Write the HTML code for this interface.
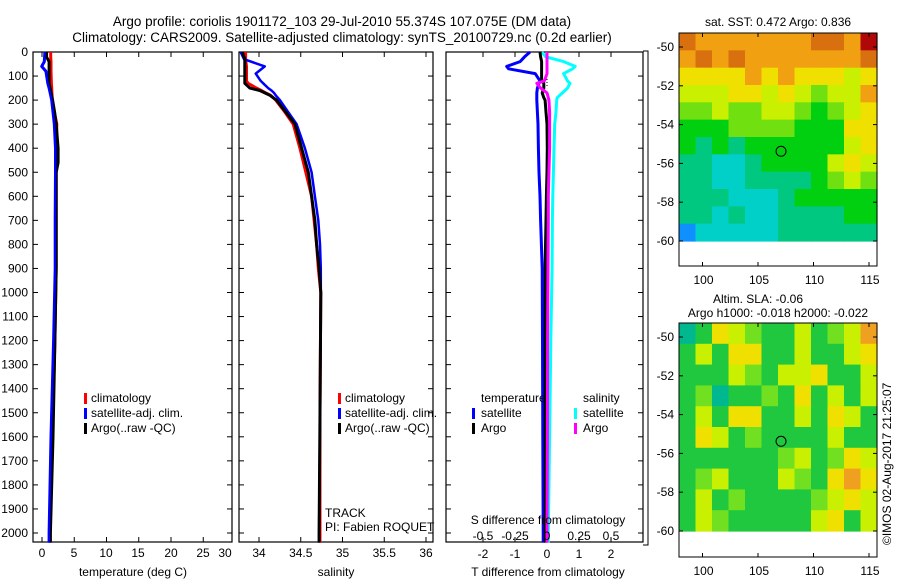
<!DOCTYPE html>
<html><head><meta charset="utf-8"><style>
body{margin:0;background:#fff}
svg{display:block;font-family:"Liberation Sans",sans-serif}
</style></head><body>
<svg id="chart" width="900" height="580" xmlns="http://www.w3.org/2000/svg">
<rect width="900" height="580" fill="#fff"/>
<text x="342" y="26" font-size="13.5" text-anchor="middle">Argo profile: coriolis 1901172_103 29-Jul-2010 55.374S 107.075E (DM data)</text>
<text x="342" y="42" font-size="13.5" text-anchor="middle">Climatology: CARS2009. Satellite-adjusted climatology: synTS_20100729.nc (0.2d earlier)</text>
<g id="g"></g>
</svg>
<script>
// depth levels (dbar)
const depthT = [0,20,40,60,80,130,150,200,250,300,400,460,500,700,900,1200,1600,2000,2040];
const tempClim = [1.35,1.35,1.4,1.4,1.4,1.45,1.5,1.6,1.9,2.3,2.2,2.2,2.2,2.2,2.2,2.0,1.6,1.25,1.25];
const tempArgo = [0.7,0.7,1.1,1.1,1.1,1.1,1.25,1.65,1.95,2.2,2.5,2.5,2.2,2.2,2.2,2.0,1.7,1.3,1.3];
const tempSat  = [0.45,0.4,0.35,-0.05,0.6,0.9,1.1,1.5,1.7,1.9,2.1,2.1,2.1,2.05,2.05,1.8,1.4,1.1,1.1];
const depthS = [0,30,60,90,120,130,150,160,170,180,200,250,300,400,500,600,700,800,900,1000,1500,2000,2040];
const salClim = [33.84,33.84,33.85,33.85,33.85,33.87,33.97,34.03,34.08,34.14,34.20,34.31,34.41,34.49,34.56,34.63,34.66,34.69,34.71,34.74,34.73,34.73,34.73];
const salArgo = [33.80,33.83,33.83,33.83,33.83,33.83,33.89,34.01,34.07,34.13,34.21,34.32,34.43,34.51,34.59,34.63,34.67,34.69,34.72,34.74,34.73,34.72,34.72];
const salSat  = [33.78,33.82,34.07,33.96,34.02,34.05,34.11,34.15,34.18,34.2,34.25,34.35,34.45,34.55,34.63,34.67,34.71,34.73,34.74,34.74,34.73,34.72,34.72];
const depthD = [0,20,40,60,70,90,120,130,150,170,190,200,250,300,400,500,600,700,900,1200,1600,2000,2040];
const dTsat  = [-0.53,-0.7,-0.84,-1.26,-1.2,-0.37,-0.22,-0.25,-0.3,-0.32,-0.32,-0.32,-0.3,-0.28,-0.27,-0.25,-0.22,-0.2,-0.15,-0.14,-0.13,-0.12,-0.12];
const dTargo = [-0.22,-0.2,-0.17,-0.17,-0.17,-0.17,-0.17,-0.1,-0.1,-0.15,-0.1,-0.06,-0.03,0,0.01,0,-0.02,-0.03,-0.06,-0.06,-0.06,-0.06,-0.06];
const dSsat  = [-0.04,-0.01,0.13,0.22,0.2,0.13,0.16,0.18,0.16,0.12,0.08,0.076,0.07,0.06,0.055,0.05,0.045,0.042,0.04,0.03,0.02,0.01,0.01];
const dSargo = [0,0,0,0,0,0,-0.02,-0.08,-0.05,0,0.01,0.015,0.02,0.02,0.02,0.015,0.01,0.01,0.008,0.005,0.003,0,0];
const depthTicks = [0,100,200,300,400,500,600,700,800,900,1000,1100,1200,1300,1400,1500,1600,1700,1800,1900,2000];
const tTicks = [0,5,10,15,20,25,30];
const sTicks = [34,34.5,35,35.5,36];
const dTTicks = [-2,-1,0,1,2];
const dSTicks = [-0.5,-0.25,0,0.25,0.5];
const dSLabels = ['-0.5','-0.25','0','0.25','0.5'];
const latTicks = [-50,-52,-54,-56,-58,-60];
const lonTicks = [100,105,110,115];
const sstGrid = ["OoooooooOOoR","oOoOoooooooO","YYYYoYoYYYyY","yyyYYyYyGyyo","GGyGGyyGgGyY","gggGGGGgggYY","gtgtggggggyY","ttcctggggyYy","ttccttttgGyG","tttccctggggg","ttctccttttgg","bccccctttttt"];
const slaGrid = ["tgYyGggygGyO","gygYYggyggyY","gggyGgyyYggy","gGtggGgYgygy","gygYYggygYyg","gYygGggggygg","ggggggGygGYy","gGygggyGgYOY","gygGggggGyYy","gyGgggggyYgy"];
const argoLon = 107.075, argoLat = -55.374;

const NS="http://www.w3.org/2000/svg", G=document.getElementById('g');
function el(t,a,p){const e=document.createElementNS(NS,t);for(const k in a)e.setAttribute(k,a[k]);(p||G).appendChild(e);return e;}
function txt(s,x,y,o,name){const e=el('text',Object.assign({x:x,y:y,'font-size':12},o||{}));e.textContent=s;return e;}
const Y0=52, Y1=542;
const yD = d => Y0 + d*0.2405;
function lin(a0,a1,p0,p1){return v=>p0+(v-a0)*(p1-p0)/(a1-a0);}
const P1={x0:33,x1:232,f:lin(0,30,42,235.5)};
const P2={x0:239,x1:433,f:lin(34,36,259,426)};
const P3={x0:446,x1:643,f:lin(-2,2,483,611)};
const fS = lin(-0.5,0.5,483,611);

function panel(P,name,ticks,yLabels){
  const r=el('rect',{x:P.x0,y:Y0,width:P.x1-P.x0,height:Y1-Y0,fill:'none',stroke:'#000','stroke-width':1.2});
  
  depthTicks.forEach(d=>{const y=yD(d);
    el('line',{x1:P.x0,x2:P.x0+5,y1:y,y2:y,stroke:'#000'});
    el('line',{x1:P.x1-5,x2:P.x1,y1:y,y2:y,stroke:'#000'});
    if(yLabels){txt(String(d),28,y+4,{'text-anchor':'end'},'y-tick-label');}
  });
  ticks.forEach(v=>{const x=P.f(v); if(x>P.x1) return;
    el('line',{x1:x,x2:x,y1:Y0,y2:Y0+5,stroke:'#000'});
    el('line',{x1:x,x2:x,y1:Y1-5,y2:Y1,stroke:'#000'});
  });
}
function line(depths,vals,f,col,name,w){
  const pts=depths.map((d,i)=>f(vals[i]).toFixed(1)+','+yD(d).toFixed(1)).join(' ');
  const e=el('polyline',{points:pts,fill:'none',stroke:col,'stroke-width':w||3,'stroke-linejoin':'round'});
  
}
function legendBar(x,y,col){el('rect',{x:x,y:y-9,width:3,height:11,fill:col});}

// Panel 1 temperature
panel(P1,'temperature-panel',tTicks,true);
line(depthT,tempClim,P1.f,'#f00','temp-climatology-line');
line(depthT,tempSat,P1.f,'#00f','temp-satellite-line');
line(depthT,tempArgo,P1.f,'#000','temp-argo-line');
line(depthT,tempSat,P1.f,'#00f','temp-satellite-line-top',2);
[['0',42],['5',74],['10',106],['15',138],['20',171],['25',203],['30',225]].forEach(t=>txt(t[0],t[1],557,{'text-anchor':'middle'},'x-tick-label-temp'));
txt('temperature (deg C)',133,576,{'text-anchor':'middle'},'x-axis-title-temperature');
[['climatology','#f00'],['satellite-adj. clim.','#00f'],['Argo(..raw -QC)','#000']].forEach((l,i)=>{legendBar(84,402+i*15,l[1]);txt(l[0],91,402+i*15,{},'legend-entry-temp');});

// Panel 2 salinity
panel(P2,'salinity-panel',sTicks,false);
line(depthS,salClim,P2.f,'#f00','sal-climatology-line');
line(depthS,salSat,P2.f,'#00f','sal-satellite-line',2.5);
line(depthS,salArgo,P2.f,'#000','sal-argo-line');
sTicks.forEach(v=>txt(String(v),P2.f(v),557,{'text-anchor':'middle'},'x-tick-label-sal'));
txt('salinity',336,576,{'text-anchor':'middle'},'x-axis-title-salinity');
[['climatology','#f00'],['satellite-adj. clim.','#00f'],['Argo(..raw -QC)','#000']].forEach((l,i)=>{legendBar(338,402+i*15,l[1]);txt(l[0],345,402+i*15,{},'legend-entry-sal');});
txt('TRACK',325,517,{},'track-label');
txt('PI: Fabien ROQUET',325,531,{},'pi-label');

// Panel 3 differences
panel(P3,'difference-panel',dTTicks,false);
el('line',{x1:P3.f(0),x2:P3.f(0),y1:Y0,y2:yD(150),stroke:'#000','stroke-dasharray':'1,2'});
line(depthD,dTsat,P3.f,'#00f','tdiff-satellite-line');
line(depthD,dSsat,fS,'#0ff','sdiff-satellite-line');
line(depthD,dTargo,P3.f,'#000','tdiff-argo-line');
line(depthD,dSargo,fS,'#f0f','sdiff-argo-line');
dTTicks.forEach(v=>txt(String(v),P3.f(v),558,{'text-anchor':'middle'},'x-tick-label-tdiff'));
dSTicks.forEach((v,i)=>txt(dSLabels[i],fS(v),540,{'text-anchor':'middle'},'x-tick-label-sdiff'));
txt('S difference from climatology',548,524,{'text-anchor':'middle'},'s-diff-axis-title');
txt('T difference from climatology',548,576,{'text-anchor':'middle'},'x-axis-title-tdiff');
txt('temperature',481,402,{},'legend-title-temperature');
txt('salinity',583,402,{},'legend-title-salinity');
legendBar(472,417,'#00f');txt('satellite',481,417,{},'legend-entry-tsat');
legendBar(472,432,'#000');txt('Argo',481,432,{},'legend-entry-targo');
legendBar(574,417,'#0ff');txt('satellite',583,417,{},'legend-entry-ssat');
legendBar(574,432,'#f0f');txt('Argo',583,432,{},'legend-entry-sargo');

// bracket line
el('polyline',{points:'643,51 648,51 648,545 643,545',fill:'none',stroke:'#000'});

// Maps
const pal1={R:'#b00808',O:'#d87010',o:'#f0a010',Y:'#f0e000',y:'#c8f000',G:'#70e010',g:'#00d010',t:'#00c880',c:'#00d0c8',b:'#1090ff'};
const pal2={t:'#00b890',g:'#20c840',G:'#70e020',y:'#c8f000',Y:'#f0e000',O:'#f0a020'};
function map(top,bot,dataBot,grid,pal,name){
  const x0=679,x1=877;
  const lonF=lin(100,115,702.5,869), latF=lin(-50,-60,top+14,dataBot);
  const rows=grid.length, cols=12, cw=(x1-x0)/cols, ch=(dataBot-top)/rows;
  const g=el('g',{});
  grid.forEach((row,r)=>{for(let c=0;c<cols;c++){el('rect',{x:x0+c*cw,y:top+r*ch,width:cw+0.6,height:ch+0.6,fill:pal[row[c]]||pal.g},g);}});
  el('rect',{x:x0,y:top,width:x1-x0,height:bot-top,fill:'none',stroke:'#000'});
  latTicks.forEach(v=>{const y=latF(v);el('line',{x1:x0,x2:x0+4,y1:y,y2:y,stroke:'#000'});el('line',{x1:x1-4,x2:x1,y1:y,y2:y,stroke:'#000'});txt(String(v),674,y+4,{'text-anchor':'end'},'lat-tick-label');});
  lonTicks.forEach(v=>{const x=lonF(v);el('line',{x1:x,x2:x,y1:top,y2:top+4,stroke:'#000'});el('line',{x1:x,x2:x,y1:bot-4,y2:bot,stroke:'#000'});txt(String(v),x+1,bot+18,{'text-anchor':'middle'},'lon-tick-label');});
  const c=el('circle',{cx:lonF(argoLon),cy:latF(argoLat),r:5,fill:'none',stroke:'#000'});
  
}
map(33,266,241,sstGrid,pal1,'sst-map');
map(323,557,531,slaGrid,pal2,'sla-map');
txt('sat. SST: 0.472 Argo: 0.836',778,26,{'text-anchor':'middle'},'sst-map-title');
txt('Altim. SLA: -0.06',758,303,{'text-anchor':'middle'},'sla-map-title');
txt('Argo h1000: -0.018 h2000: -0.022',778,317,{'text-anchor':'middle'},'sla-map-subtitle');
txt('©IMOS 02-Aug-2017 21:25:07',891,545,{transform:'rotate(-90 891 545)'},'copyright-label');
</script>
</body></html>
